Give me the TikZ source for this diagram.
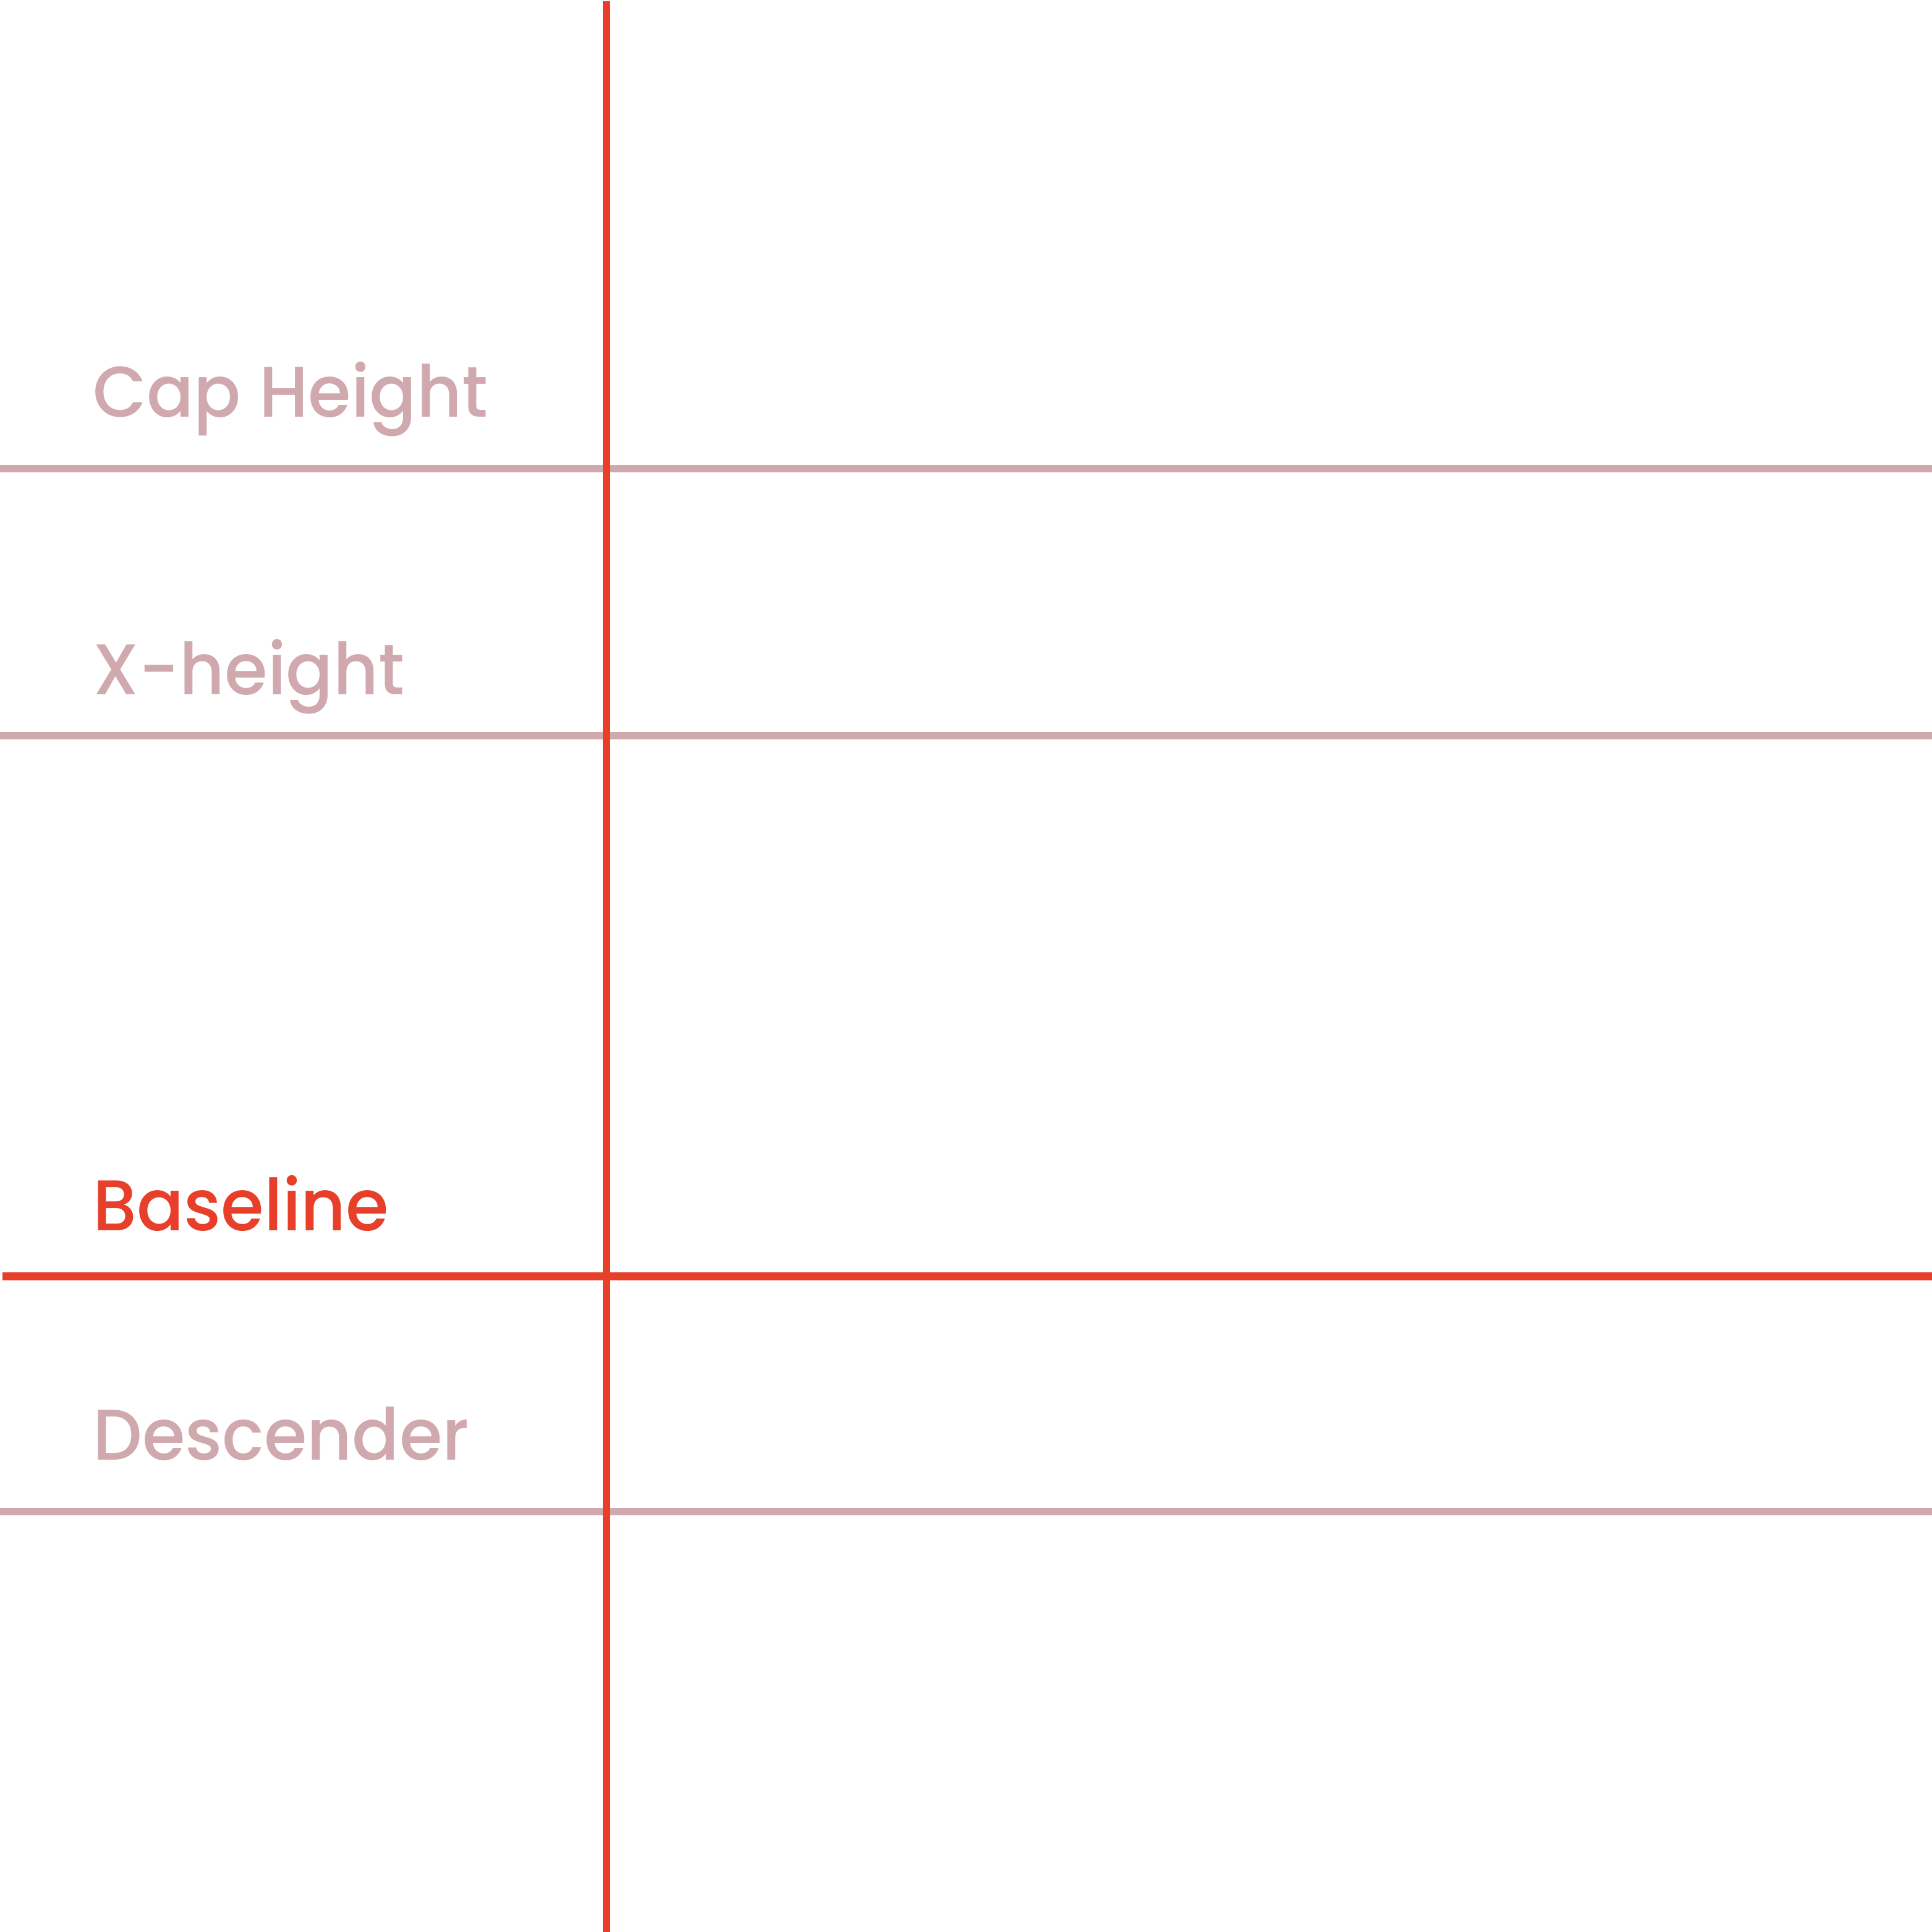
\documentclass[tikz,border=0pt]{standalone}
\usepackage{fontspec}
\setmainfont{Poppins}[UprightFont=* Medium,FakeStretch=0.97]
\definecolor{guidepink}{RGB}{207,169,174}
\definecolor{basered}{RGB}{231,63,41}
\begin{document}
\begin{tikzpicture}[x=1cm,y=1cm]
\newcommand{\guideclr}{guidepink}
\newcommand{\baseclr}{basered}
\tikzset{lbl/.style={anchor=base west,inner sep=0pt,font=\fontsize{33}{40}\selectfont}}
\useasboundingbox (0,0) rectangle (31.25,31.25);
\fill[white] (0,0) rectangle (31.25,31.25);
% guide lines
\draw[\guideclr,line width=0.12cm] (0,23.67) -- (31.25,23.67);
\draw[\guideclr,line width=0.12cm] (0,19.35) -- (31.25,19.35);
\draw[\guideclr,line width=0.12cm] (0,6.795) -- (31.25,6.795);
\draw[\baseclr,line width=0.13cm] (0.04,10.605) -- (31.25,10.605);
\draw[\baseclr,line width=0.12cm] (9.81,31.23) -- (9.81,0);
% labels
\node[lbl,\guideclr] (cap) at (1.50,24.50) {Cap Height};
\node[lbl,\guideclr] (xh) at (1.50,20.01) {X-height};
\node[lbl,\baseclr] (base) at (1.50,11.34) {Baseline};
\node[lbl,\guideclr] (desc) at (1.50,7.63) {Descender};
\end{tikzpicture}
\end{document}
